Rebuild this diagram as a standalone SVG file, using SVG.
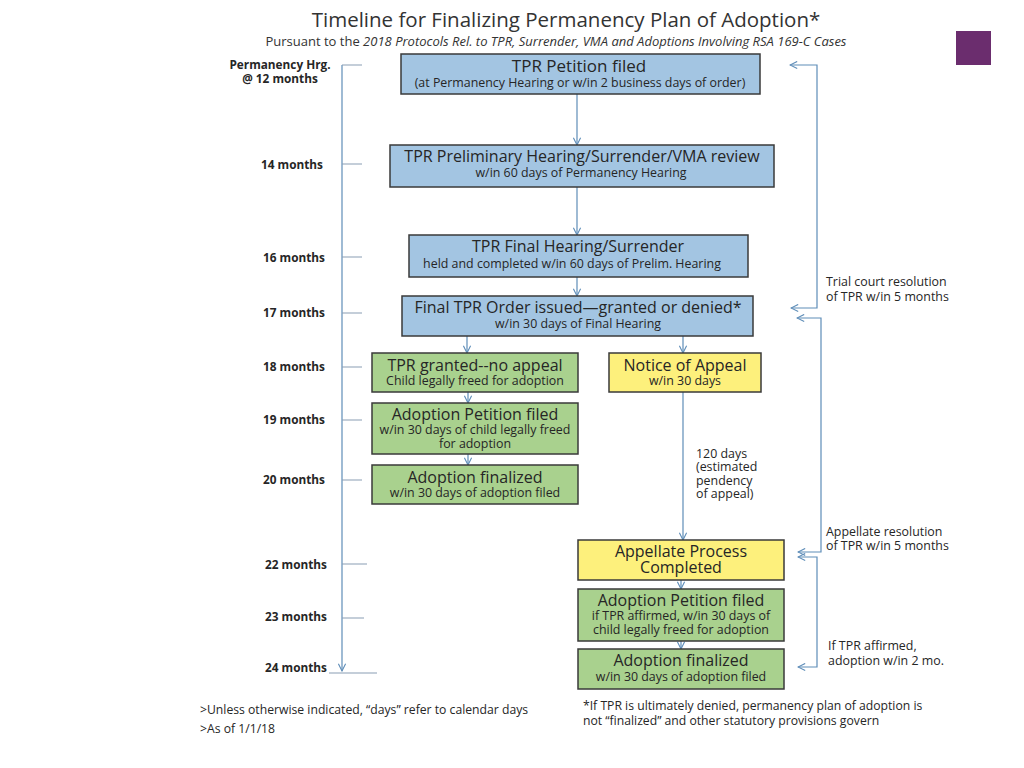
<svg xmlns="http://www.w3.org/2000/svg" width="1024" height="768" viewBox="0 0 1024 768">
<defs>
<style>
text{font-family:"Open Sans","Liberation Sans",sans-serif;fill:#262626}
.title{font-size:20.5px;fill:#333}
.sub{font-size:13px;fill:#333}
.bt{font-size:16px;text-anchor:middle}
.bt1{font-size:17px;text-anchor:middle}
.bs{font-size:12.4px;text-anchor:middle}
.lbl{font-size:11.8px;font-weight:bold;text-anchor:middle}
.ann{font-size:12.4px}
.note{font-size:12.2px}
.box{stroke:#3a3a3a;stroke-width:1.5}
.blue{fill:#a3c5e2}
.green{fill:#a9d18e}
.yellow{fill:#fdf07c}
.con{fill:none;stroke:#5e8db8;stroke-width:1.2}
.tick{fill:none;stroke:#8a9db3;stroke-width:1.2}
</style>
<marker id="ah" viewBox="0 0 10 10" refX="9" refY="5" markerWidth="9" markerHeight="9" markerUnits="userSpaceOnUse" orient="auto-start-reverse">
<path d="M1,1 L9,5 L1,9" fill="none" stroke="#5e8db8" stroke-width="1.2"/>
</marker>
</defs>
<rect width="1024" height="768" fill="#fff"/>

<g id="header">
<text class="title" x="566" y="27" text-anchor="middle">Timeline for Finalizing Permanency Plan of Adoption*</text>
<text class="sub" x="556" y="46" text-anchor="middle">Pursuant to the <tspan font-style="italic">2018 Protocols Rel. to TPR, Surrender, VMA and Adoptions Involving RSA 169-C Cases</tspan></text>
<rect x="956" y="31" width="35" height="34" fill="#6b2d6e"/>
</g>

<g id="timeline">
<path class="con" d="M342,65 V671" marker-end="url(#ah)"/>
<path class="tick" d="M342,65 H362 M342,164 H362 M342,257 H362 M342,313 H362 M342,367 H362 M342,420 H362 M342,480 H362 M342,564 H367 M342,618 H364 M329,673 H377"/>
<text class="lbl" x="280" y="69">Permanency  Hrg.</text>
<text class="lbl" x="280" y="83">@ 12 months</text>
<text class="lbl" x="292" y="169">14 months</text>
<text class="lbl" x="294" y="262">16 months</text>
<text class="lbl" x="294" y="317">17 months</text>
<text class="lbl" x="294" y="371">18 months</text>
<text class="lbl" x="294" y="424">19 months</text>
<text class="lbl" x="294" y="484">20 months</text>
<text class="lbl" x="296" y="569">22 months</text>
<text class="lbl" x="296" y="621">23 months</text>
<text class="lbl" x="296" y="672">24 months</text>
</g>

<g id="connectors">
<path class="con" d="M577,94 V145" marker-end="url(#ah)"/>
<path class="con" d="M577,187 V235" marker-end="url(#ah)"/>
<path class="con" d="M577,277 V296" marker-end="url(#ah)"/>
<path class="con" d="M467,336 V353" marker-end="url(#ah)"/>
<path class="con" d="M683,336 V353" marker-end="url(#ah)"/>
<path class="con" d="M468,392 V403" marker-end="url(#ah)"/>
<path class="con" d="M468,454 V465" marker-end="url(#ah)"/>
<path class="con" d="M683,392 V540" marker-end="url(#ah)"/>
<path class="con" d="M681,580 V589" marker-end="url(#ah)"/>
<path class="con" d="M681,641 V649" marker-end="url(#ah)"/>
<path class="con" d="M790,65 H817 V308 H791" marker-start="url(#ah)" marker-end="url(#ah)"/>
<path class="con" d="M797,318 H821 V552 H798" marker-start="url(#ah)" marker-end="url(#ah)"/>
<path class="con" d="M798,557 H817 V667 H798" marker-start="url(#ah)" marker-end="url(#ah)"/>
</g>

<g id="n1"><rect class="box blue" x="401" y="54" width="359" height="40"/>
<text class="bt1" x="579" y="72">TPR Petition filed</text>
<text class="bs" x="580" y="87">(at Permanency Hearing or w/in 2 business days of order)</text></g>

<g id="n2"><rect class="box blue" x="390" y="145" width="384" height="42"/>
<text class="bt" x="582" y="162">TPR Preliminary Hearing/Surrender/VMA review</text>
<text class="bs" x="581" y="177">w/in 60 days of Permanency Hearing</text></g>

<g id="n3"><rect class="box blue" x="409" y="235" width="339" height="42"/>
<text class="bt" x="578" y="252">TPR Final Hearing/Surrender</text>
<text class="bs" x="572" y="268">held and completed w/in 60 days of Prelim. Hearing</text></g>

<g id="n4"><rect class="box blue" x="402" y="296" width="351" height="40"/>
<text class="bt" x="578" y="313">Final TPR Order issued—granted or denied*</text>
<text class="bs" x="578" y="328">w/in 30 days of Final Hearing</text></g>

<g id="n5"><rect class="box green" x="372" y="353" width="206" height="39"/>
<text class="bt" x="475" y="371">TPR granted--no appeal</text>
<text class="bs" x="475" y="385">Child legally freed for adoption</text></g>

<g id="n6"><rect class="box green" x="372" y="403" width="206" height="51"/>
<text class="bt" x="475" y="420">Adoption Petition filed</text>
<text class="bs" x="475" y="434">w/in 30 days of child legally freed</text>
<text class="bs" x="475" y="448">for adoption</text></g>

<g id="n7"><rect class="box green" x="372" y="465" width="206" height="39"/>
<text class="bt" x="475" y="483">Adoption finalized</text>
<text class="bs" x="475" y="497">w/in 30 days of adoption filed</text></g>

<g id="n8"><rect class="box yellow" x="609" y="353" width="152" height="39"/>
<text class="bt" x="685" y="371">Notice of Appeal</text>
<text class="bs" x="685" y="385">w/in 30 days</text></g>

<g id="n9"><rect class="box yellow" x="578" y="540" width="206" height="40"/>
<text class="bt" x="681" y="557">Appellate Process</text>
<text class="bt" x="681" y="573">Completed</text></g>

<g id="n10"><rect class="box green" x="578" y="589" width="206" height="52"/>
<text class="bt" x="681" y="606">Adoption Petition filed</text>
<text class="bs" x="681" y="620">if TPR affirmed, w/in 30 days of</text>
<text class="bs" x="681" y="634">child legally freed for adoption</text></g>

<g id="n11"><rect class="box green" x="578" y="649" width="206" height="40"/>
<text class="bt" x="681" y="666">Adoption finalized</text>
<text class="bs" x="681" y="681">w/in 30 days of adoption filed</text></g>

<g id="annotations">
<text class="ann" x="696" y="458">120 days</text>
<text class="ann" x="696" y="471">(estimated</text>
<text class="ann" x="696" y="485">pendency</text>
<text class="ann" x="696" y="498">of appeal)</text>
<text class="ann" x="826" y="286">Trial court resolution</text>
<text class="ann" x="826" y="301">of TPR w/in 5 months</text>
<text class="ann" x="826" y="536">Appellate resolution</text>
<text class="ann" x="826" y="550">of TPR w/in 5 months</text>
<text class="ann" x="828" y="650">If TPR affirmed,</text>
<text class="ann" x="828" y="665">adoption w/in 2 mo.</text>
</g>

<g id="notes">
<text class="note" x="200" y="714">&gt;Unless otherwise indicated, “days” refer to calendar days</text>
<text class="note" x="200" y="733">&gt;As of 1/1/18</text>
<text class="note" x="583" y="710">*If TPR is ultimately denied, permanency plan of adoption is</text>
<text class="note" x="583" y="725">not “finalized” and other statutory provisions govern</text>
</g>
</svg>
